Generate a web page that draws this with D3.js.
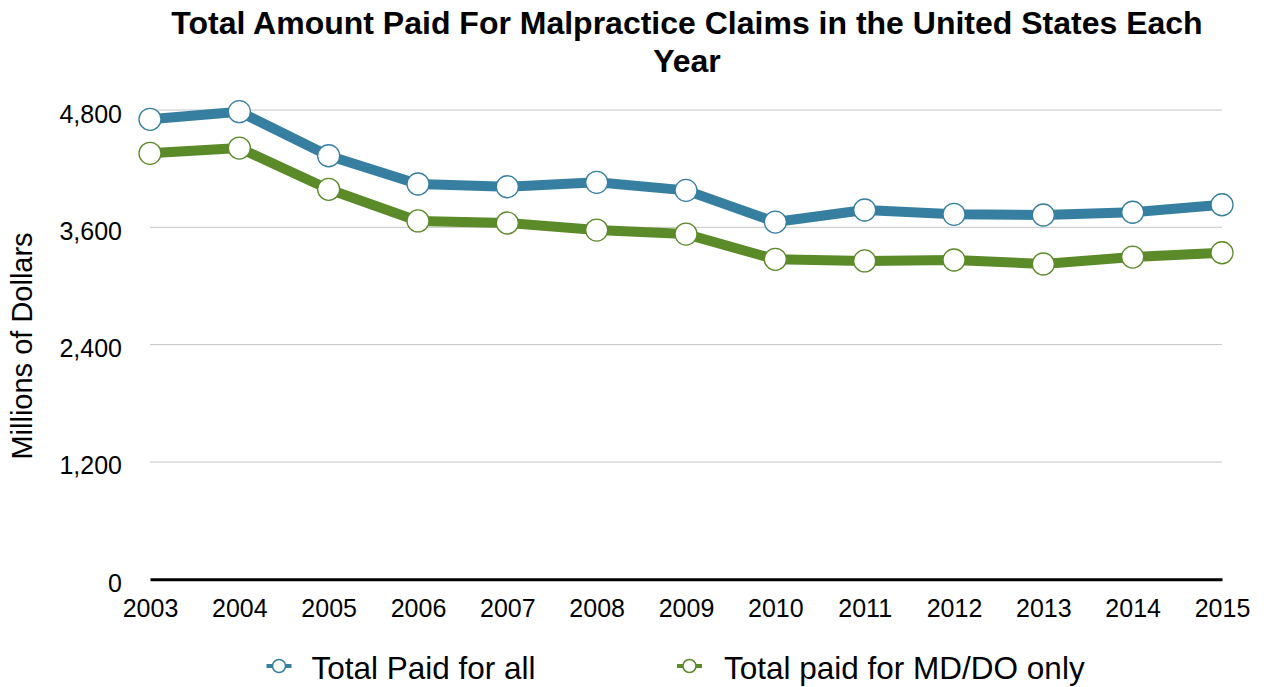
<!DOCTYPE html>
<html><head><meta charset="utf-8">
<script src="https://cdn.jsdelivr.net/npm/d3@7"></script>
<style>body{margin:0;background:#fff;font-family:"Liberation Sans",Arial,Helvetica,sans-serif;}</style>
</head><body>
<svg id="c" width="1264" height="687"></svg>
<script>
const years = ["2003","2004","2005","2006","2007","2008","2009","2010","2011","2012","2013","2014","2015"];
const totalAll = [4705,4783,4332,4043,4015,4060,3978,3654,3777,3733,3726,3754,3831];
const totalMD = [4357,4411,3989,3665,3644,3572,3531,3273,3256,3266,3225,3296,3340];
const yTicks = [0,1200,2400,3600,4800];
const seriesNames = ["Total Paid for all","Total paid for MD/DO only"];
const colors = ["#367fa1","#5b8a28"];

const FONT = "Liberation Sans, Arial, sans-serif";
const svg = d3.select("#c");
const x = d3.scalePoint().domain(years).range([150,1222]);
const y = d3.scaleLinear().domain([0,4800]).range([579.3,110]);

// title
svg.append("text").attr("x",687).attr("y",33.5).attr("text-anchor","middle")
  .attr("font-size",32).attr("font-weight","bold").text("Total Amount Paid For Malpractice Claims in the United States Each");
svg.append("text").attr("x",687).attr("y",71.5).attr("text-anchor","middle")
  .attr("font-size",32).attr("font-weight","bold").text("Year");

// grid
svg.append("g").selectAll("line").data(yTicks.filter(d=>d>0)).join("line")
  .attr("x1",150).attr("x2",1222).attr("y1",d=>y(d)).attr("y2",d=>y(d))
  .attr("stroke","#c4c4c4").attr("stroke-width",1);

// y axis labels
const ya = svg.append("g").attr("transform","translate(122,0)")
  .call(d3.axisLeft(y).tickValues(yTicks).tickFormat(d3.format(",")).tickSize(0).tickPadding(0));
ya.select(".domain").remove();
ya.selectAll("text").attr("font-size",25).attr("font-family",FONT).attr("fill","#000")
  .attr("x",0).attr("dy",12);

// x axis
const xa = svg.append("g").attr("transform","translate(0,579.3)")
  .call(d3.axisBottom(x).tickSize(0).tickPadding(0));
xa.select(".domain").attr("stroke","#000").attr("stroke-width",3);
xa.selectAll("text").attr("font-size",25).attr("font-family",FONT).attr("fill","#000")
  .attr("y",0).attr("dy",37.4);

// y title
svg.append("text").attr("transform","translate(32,346) rotate(-90)").attr("text-anchor","middle")
  .attr("font-size",29).text("Millions of Dollars");

// lines
const data = [totalAll,totalMD];
const line = d3.line().x((d,i)=>x(years[i])).y(d=>y(d));
data.forEach((s,k)=>{
  svg.append("path").datum(s).attr("d",line).attr("fill","none")
    .attr("stroke",colors[k]).attr("stroke-width",10).attr("stroke-linejoin","round");
});
data.forEach((s,k)=>{
  svg.append("g").selectAll("circle").data(s).join("circle")
    .attr("cx",(d,i)=>x(years[i])).attr("cy",d=>y(d)).attr("r",11)
    .attr("fill","#fff").attr("stroke",colors[k]).attr("stroke-width",1.3);
});

// legend
const lx = [279,689.5], tx=[311.5,724];
seriesNames.forEach((n,k)=>{
  const g = svg.append("g");
  g.append("line").attr("x1",lx[k]-12.5).attr("x2",lx[k]+12.5).attr("y1",666).attr("y2",666)
    .attr("stroke",colors[k]).attr("stroke-width",4);
  g.append("circle").attr("cx",lx[k]).attr("cy",666).attr("r",6.5).attr("fill","#fff")
    .attr("stroke",colors[k]).attr("stroke-width",1.5);
  g.append("text").attr("x",tx[k]).attr("y",679).attr("font-size",31.5).text(n);
});
</script>
</body></html>
